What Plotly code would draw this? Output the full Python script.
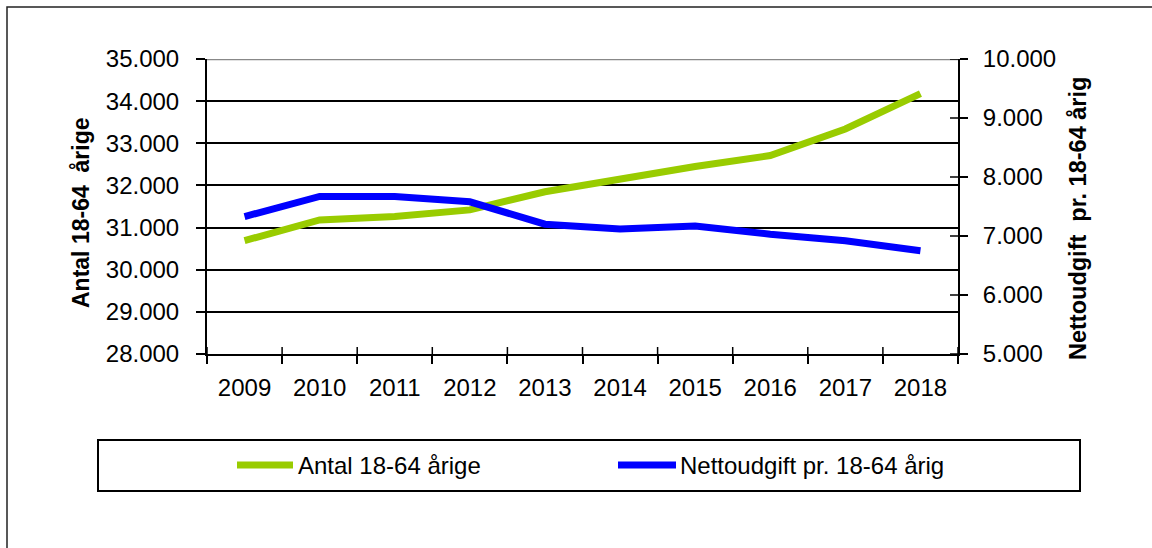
import plotly.graph_objects as go

# data
years = ["2009", "2010", "2011", "2012", "2013", "2014", "2015", "2016", "2017", "2018"]
antal = [30690, 31180, 31260, 31420, 31850, 32170, 32450, 32710, 33340, 34180]
netto = [7330, 7670, 7670, 7580, 7200, 7120, 7170, 7030, 6920, 6750]

left_ticks = [28000, 29000, 30000, 31000, 32000, 33000, 34000, 35000]
right_ticks = [5000, 6000, 7000, 8000, 9000, 10000]

GREEN = "#99CC00"
BLUE = "#0000FF"
FONT = "Arial, Liberation Sans, sans-serif"

W, H = 1152, 548
L, R, T, B = 207, 194, 59, 194
PW, PH = W - L - R, H - T - B


def px(p):
    # pixel x -> paper x
    return (p - L) / PW


def py(q):
    # pixel y -> paper y
    return (H - B - q) / PH


fig = go.Figure()
fig.add_trace(go.Scatter(x=years, y=antal, mode="lines", name="Antal 18-64 årige",
                         line=dict(color=GREEN, width=7), yaxis="y"))
fig.add_trace(go.Scatter(x=years, y=netto, mode="lines", name="Nettoudgift pr. 18-64 årig",
                         line=dict(color=BLUE, width=7), yaxis="y2"))

shapes = []
# outer chart border (only top and left visible)
shapes.append(dict(type="rect", xref="paper", yref="paper",
                   x0=px(7), x1=px(1170), y0=py(570), y1=py(7),
                   line=dict(color="#222222", width=1.5), layer="below"))
# top gridline is grey in the original
shapes.append(dict(type="line", xref="paper", yref="y", x0=0, x1=1,
                   y0=left_ticks[-1], y1=left_ticks[-1],
                   line=dict(color="#888888", width=2.5)))
# inner halves of the crossing tick marks
for v in right_ticks:
    shapes.append(dict(type="line", xref="paper", yref="y2", x0=1, x1=1 - 8 / PW,
                       y0=v, y1=v, line=dict(color="black", width=1.5)))
for i in range(len(years) + 1):
    shapes.append(dict(type="line", xref="x", yref="paper", x0=i - 0.5, x1=i - 0.5,
                       y0=0, y1=7 / PH, line=dict(color="black", width=1.5)))

# legend box drawn by hand
shapes.append(dict(type="rect", xref="paper", yref="paper",
                   x0=px(98), x1=px(1080), y0=py(491), y1=py(440),
                   line=dict(color="black", width=2), fillcolor="white"))
legend_items = [("Antal 18-64 årige", GREEN, 237, 293, 296),
                ("Nettoudgift pr. 18-64 årig", BLUE, 618, 676, 678)]
annotations = []
for label, col, a, b, tx in legend_items:
    shapes.append(dict(type="line", xref="paper", yref="paper", x0=px(a), x1=px(b),
                       y0=py(465), y1=py(465), line=dict(color=col, width=7)))
    annotations.append(dict(text=label, xref="paper", yref="paper", x=px(tx), y=py(465),
                            xanchor="left", yanchor="middle", showarrow=False,
                            font=dict(family=FONT, size=24, color="black")))

# axis titles
annotations.append(dict(text="<b>Antal 18-64 \u00a0årige</b>", xref="paper", yref="paper",
                        x=px(81), y=py(213), textangle=-90, showarrow=False,
                        xanchor="center", yanchor="middle",
                        font=dict(family=FONT, size=23, color="black")))
annotations.append(dict(text="<b>Nettoudgift \u00a0pr. 18-64 årig</b>", xref="paper", yref="paper",
                        x=px(1078), y=py(219), textangle=-90, showarrow=False,
                        xanchor="center", yanchor="middle",
                        font=dict(family=FONT, size=23.5, color="black")))

fig.update_layout(
    width=W, height=H,
    margin=dict(l=L, r=R, t=T, b=B),
    paper_bgcolor="white", plot_bgcolor="white",
    separators=",.",
    showlegend=False,
    font=dict(family=FONT, size=24, color="black"),
    xaxis=dict(type="category", tickson="boundaries", ticks="outside", ticklen=8,
               tickwidth=1.5, tickcolor="black", showline=True, linecolor="black",
               linewidth=2, showgrid=False, ticklabelstandoff=11,
               range=[-0.5, len(years) - 0.5]),
    yaxis=dict(range=[left_ticks[0], left_ticks[-1]], tickvals=left_ticks, tickformat=",d",
               ticks="outside", ticklen=9, tickwidth=1.5, tickcolor="black",
               showline=True, linecolor="black", linewidth=2,
               showgrid=True, gridcolor="black", gridwidth=1.5,
               ticklabelstandoff=12, zeroline=False),
    yaxis2=dict(range=[right_ticks[0], right_ticks[-1]], tickvals=right_ticks, tickformat=",d",
                overlaying="y", side="right", anchor="x",
                ticks="outside", ticklen=8, tickwidth=1.5, tickcolor="black",
                showline=True, linecolor="black", linewidth=2, showgrid=False,
                ticklabelstandoff=10, zeroline=False),
    shapes=shapes,
    annotations=annotations,
)

# drop the default page margin so the figure sits at the window's top-left corner
fig.write_html("out.html", config={"displayModeBar": False},
               post_script="document.body.style.margin='0';")
